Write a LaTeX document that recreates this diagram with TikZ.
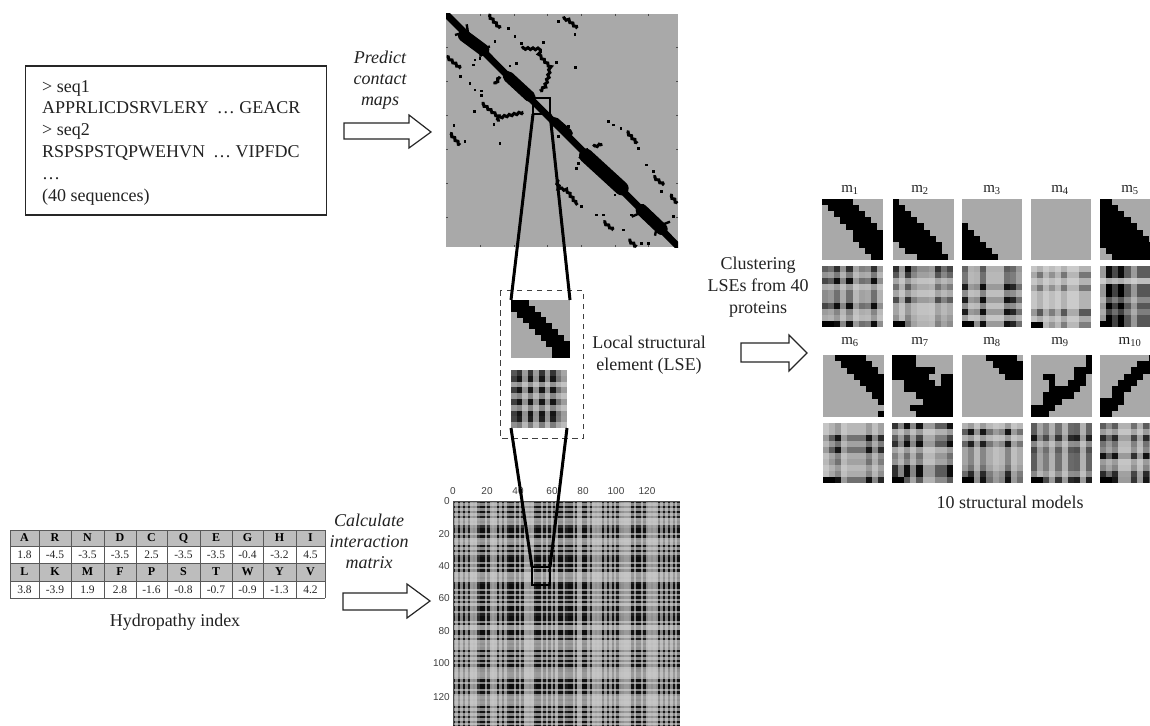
\documentclass[tikz,border=0pt]{standalone}
\usepackage{fontspec}
\setmainfont{Liberation Serif}
\newfontfamily\ticksf{Liberation Sans}
\usetikzlibrary{calc,decorations.pathmorphing}
\definecolor{mapgray}{HTML}{A9A9A9}
\definecolor{hdrgray}{HTML}{BDBDBD}
\definecolor{inktext}{HTML}{222222}
\tikzset{
 lbl/.style={inner sep=0pt,align=center,text=inktext,font=\fontsize{18}{22}\selectfont},
 ital/.style={inner sep=0pt,align=center,text=inktext,font=\fontsize{18}{21}\selectfont\itshape},
 mlab/.style={inner sep=0pt,text=inktext,font=\fontsize{15}{16}\selectfont},
 tick/.style={inner sep=0pt,text=black!75,font=\ticksf\fontsize{10}{12}\selectfont},
 hollow/.style={draw=black!85,fill=white,line width=1.2pt,line join=miter},
 zoomline/.style={draw=black,line width=3pt},
 sec/.style={draw=black,line width=3pt,line join=miter,decorate,decoration={zigzag,segment length=5pt,amplitude=0.9pt}},
 spike/.style={draw=black,line width=2.4pt},
 blob/.style={draw=black,line cap=round},
 cellt/.style={inner sep=0pt,text=black!85,font=\fontsize{11.5}{12}\selectfont},
 cellh/.style={inner sep=0pt,text=black,font=\fontsize{12}{12}\selectfont\bfseries},
}
% x y w h {r/a/b,...}
\newcommand{\stairmap}[5]{%
 \fill[mapgray] (#1,#2) rectangle ++(#3,#4);
 \foreach \r/\a/\b in {#5}{%
  \fill[black] ({#1+\a*#3/10},{#2+\r*#4/10}) rectangle ({#1+(\b+1)*#3/10},{#2+(\r+1)*#4/10+0.15});
 }%
}
% x y w h {cols} {rows}
\newcommand{\heatmap}[6]{%
 \foreach \dy [count=\j from 0] in {#6}{%
  \foreach \dx [count=\i from 0] in {#5}{%
   \pgfmathsetmacro{\pct}{100-85*(1-\dx*\dy)}
   \fill[black!\pct] ({#1+\i*#3/10},{#2+\j*#4/10}) rectangle ({#1+(\i+1)*#3/10+0.15},{#2+(\j+1)*#4/10+0.15});
  }%
 }%
}
\newcommand{\heatfoot}[4]{\fill[black] (#1,{#2+0.9*#4}) rectangle ({#1+0.2*#3},{#2+#4});}
\newcommand{\blockarrow}[8]{% x0 x1 ytop ybot headtop headbot tipx tipy
 \path[hollow] (#1,#3) -- (#2,#3) -- (#2,#5) -- (#7,#8) -- (#2,#6) -- (#2,#4) -- (#1,#4) -- cycle;
}
\newcommand{\stripelist}{.9,.4,.95,.4,.95,.4,.9,.3,.35,.3,.8,.97,.97,.4,.95,.35,.3,.35,.95,.4,.95,.4,.9,.97,.97,.4,.97,.4,.95,.3,.3,.35,.3,.9,.97,.97,.4,.95,.4,.95,.4,.95,.35,.97,.97,.4,.9,.97,.97,.4,.95,.3,.3,.97,.97,.4,.9,.3,.35,.3,.35,.95,.4,.95,.4,.95,.4,.95,.4,.35,.3,.3,.35,.95,.4,.97,.97,.4,.95,.4,.3,.35,.3,.35,.95,.4,.95,.4,.95,.4,.95,.4,.95}
\begin{document}
\begin{tikzpicture}[x=1pt,y=-1pt]
\useasboundingbox (0,0) rectangle (1150,725);
\fill[white] (0,0) rectangle (1150,725);
\begin{scope}
\clip (0,0) rectangle (1150,725);

% ---- sequence box
\node[draw=black!85,line width=1.1pt,inner sep=0pt,minimum width=301pt,minimum height=149pt] (seqbox) at (175.75,140.5) {};
\node[lbl,anchor=west,align=left,font=\fontsize{18}{21.8}\selectfont] (seqtext) at (42,142.5) {%
> seq1\\APPRLICDSRVLERY\hspace{8pt}\dots\ GEACR\\> seq2\\RSPSPSTQPWEHVN\hspace{8pt}\dots\ VIPFDC\\\dots\\(40 sequences)};

% ---- arrows and labels
\blockarrow{344}{409}{123}{139}{115}{148}{431}{132}
\blockarrow{343}{407}{593}{610}{584}{618}{430}{601}
\blockarrow{741}{789}{343}{362}{335}{371}{807}{353}
\node[ital] (lpredict) at (380,80) {Predict\\contact\\maps};
\node[ital] (lcalc) at (369,541) {Calculate\\interaction\\matrix};
\node[lbl] (lcluster) at (758,287) {Clustering\\LSEs from 40\\proteins};
\node[lbl] (llocal) at (649,355) {Local structural\\element (LSE)};
\node[lbl] (lhydro) at (175,622) {Hydropathy index};
\node[lbl] (lmodels) at (1010,502) {10 structural models};

% ---- contact map
\fill[mapgray] (446,14) rectangle (678,247);
\begin{scope}
\clip (446,14) rectangle (678,247);
\begin{scope}[shift={(440,5)},x=0.33333pt,y=-0.33333pt]
 \draw[black,line width=6.8pt] (10,19) -- (725,735);
 \draw[blob,line width=12pt] (72,92) -- (130,135);
 \draw[blob,line width=11pt] (205,215) -- (270,275);
 \draw[blob,line width=14pt] (438,452) -- (545,550);
 \draw[blob,line width=12pt] (605,615) -- (665,672);
 \draw[blob,line width=9pt] (345,350) -- (385,385);
 \draw[spike] (45,90) -- (80,80) (80,58) -- (85,90) (120,130) -- (150,125) (120,130) -- (122,155);
 \draw[spike] (440,435) -- (418,460) (440,430) -- (445,455) (608,598) -- (612,620) (610,620) -- (575,635) (650,668) -- (645,692) (665,660) -- (690,650);
 \draw[sec] (145,30) -- (180,70);
 \draw[sec] (368,40) -- (385,45) -- (412,70);
 \draw[sec] (245,130) -- (300,132) -- (297,150) -- (330,185) -- (325,215) -- (315,245) -- (300,258);
 \draw[sec] (20,155) -- (62,190);
 \draw[sec] (165,238) -- (180,215);
 \draw[sec] (125,295) -- (175,335) -- (175,350);
 \draw[sec] (175,338) -- (250,322);
 \draw[sec] (30,385) -- (60,420);
 \draw[sec] (350,525) -- (357,550) -- (380,555) -- (412,600);
 \draw[sec] (490,650) -- (520,675);
 \draw[sec] (565,705) -- (590,725);
 \draw[sec] (560,380) -- (592,415);
 \draw[sec] (640,515) -- (672,540);
 \draw[sec] (690,570) -- (712,595);
 \draw[sec] (460,425) -- (487,418);
 \foreach \px/\py in {205/70,355/50,405/88,225/95,245/115,100/180,105/165,120/160,62/215,210/183,230/175,
   90/235,105/255,125/258,125/272,103/320,162/358,42/362,75/410,180/415,505/350,520/360,543/370,595/430,
   425/605,415/475,410/490,470/630,490/630,550/675,605/715,625/715,620/480,640/500,665/560,700/635,575/630,
   385/365,355/395,525/570,165/110,310/112,350/172,407/187}{%
  \fill[black] ({\px-4},{\py-4}) rectangle ({\px+4},{\py+4});
 }
 \foreach \t in {120,222,322,423,525,625}{%
  \draw[black!70,line width=0.5pt] (\t,27) -- (\t,33) (\t,725) -- (\t,719);
 }
 \foreach \t in {128,230,332,433,535,636}{%
  \draw[black!70,line width=0.5pt] (18,\t) -- (24,\t) (715,\t) -- (709,\t);
 }
\end{scope}
\end{scope}

% ---- interaction matrix
\begin{scope}
 \clip (453,501) rectangle (680,725);
 \foreach \dy [count=\j from 0] in \stripelist {%
  \foreach \dx [count=\i from 0] in \stripelist {%
   \pgfmathsetmacro{\pct}{100-85*(1-\dx*\dy)}
   \fill[black!\pct] ({453+\i*2.44},{501+\j*2.44}) rectangle ({453+(\i+1)*2.44+0.1},{501+(\j+1)*2.44+0.1});
  }%
 }
\end{scope}
\draw[black!70,line width=0.8pt] (453,725) -- (453,501) -- (680,501);
\foreach \lab/\tx in {0/453,20/487,40/518,60/552,80/583,100/616,120/647}{%
 \node[tick] (ct\lab) at (\tx,491) {\lab};
}
\foreach \lab/\ty in {0/501,20/534,40/566,60/598,80/631,100/663,120/697}{%
 \node[tick,anchor=east] (rt\lab) at (450,\ty) {\lab};
}

% ---- central LSE
\stairmap{511}{300}{59}{58}{0/0/2,1/0/3,2/1/4,3/2/5,4/3/6,5/4/7,6/5/8,7/6/9,8/7/9,9/7/9}
\heatmap{511}{370}{56}{58}{.75,.95,.35,.95,.35,.95,.35,.95,.5,.3}{.8,.95,.35,.95,.4,.95,.4,.95,.9,.45}
\draw[black!75,line width=1pt,dash pattern=on 5.5pt off 4.5pt] (500,290) rectangle (583,438);

% ---- zoom connectors
\coordinate (topTL) at (533,98);
\coordinate (topBR) at (550,114);
\coordinate (topBL) at (533,114);
\coordinate (lseTL) at (511,300);
\coordinate (lseTR) at (570,300);
\coordinate (lseBL) at (511,428);
\coordinate (lseBR) at (567,428);
\coordinate (matTL) at (532,567);
\coordinate (matTR) at (550,567);
\coordinate (matBR) at (550,585);
\draw[zoomline,line width=2.4pt] (topTL) rectangle (topBR);
\draw[zoomline] (topBL) -- (lseTL);
\draw[zoomline] (topBR) -- (lseTR);
\draw[zoomline] (lseBL) -- (matTL);
\draw[zoomline] (lseBR) -- (matTR);
\draw[zoomline,line width=2.4pt] (matTL) rectangle (matBR);

% ---- hydropathy table
\fill[hdrgray] (10,530) rectangle (325,546);
\fill[hdrgray] (10,563) rectangle (325,581);
\foreach \ya in {530,546,563,581,598}{\draw[black!65,line width=1pt] (10,\ya) -- (325,\ya);}
\foreach \xa in {10,39,71,104,136,167,200,232,263,296,325}{\draw[black!65,line width=1pt] (\xa,530) -- (\xa,598);}
\foreach \t/\xc [count=\k] in {A/24.5,R/55,N/87.5,D/120,C/151.5,Q/183.5,E/216,G/247.5,H/279.5,I/310.5}{%
 \node[cellh] (ha\k) at (\xc,538) {\t};
}
\foreach \t/\xc [count=\k] in {1.8/24.5,-4.5/55,-3.5/87.5,-3.5/120,2.5/151.5,-3.5/183.5,-3.5/216,-0.4/247.5,-3.2/279.5,4.5/310.5}{%
 \node[cellt] (va\k) at (\xc,554.5) {\t};
}
\foreach \t/\xc [count=\k] in {L/24.5,K/55,M/87.5,F/120,P/151.5,S/183.5,T/216,W/247.5,Y/279.5,V/310.5}{%
 \node[cellh] (hb\k) at (\xc,572) {\t};
}
\foreach \t/\xc [count=\k] in {3.8/24.5,-3.9/55,1.9/87.5,2.8/120,-1.6/151.5,-0.8/183.5,-0.7/216,-0.9/247.5,-1.3/279.5,4.2/310.5}{%
 \node[cellt] (vb\k) at (\xc,589.5) {\t};
}

% ---- models
\foreach \n/\tx in {1/850,2/920,3/992,4/1060,5/1130}{%
 \node[mlab] (m\n) at (\tx,190) {m\textsubscript{\n}};
}
\foreach \n/\tx in {6/850,7/920,8/992,9/1060,10/1130}{%
 \node[mlab] (m\n) at (\tx,342) {m\textsubscript{\n}};
}
\stairmap{822}{199}{61}{61}{0/0/4,1/1/5,2/2/6,3/3/7,4/4/8,5/5/9,6/5/9,7/6/9,8/7/9,9/8/9}
\stairmap{893}{199}{61}{61}{0/0/0,1/0/1,2/0/2,3/0/3,4/0/4,5/0/5,6/0/6,7/1/7,8/2/7,9/4/8}
\stairmap{962}{199}{60}{61}{4/0/0,5/0/1,6/0/2,7/0/3,8/0/4,9/0/5}
\fill[mapgray] (1031,199) rectangle ++(60,61);
\stairmap{1100}{199}{61}{61}{0/0/1,1/0/2,2/0/3,3/0/4,4/0/5,5/0/6,6/0/7,7/0/8,8/1/9,9/2/9}

\heatmap{822}{266}{61}{61}{.7,.6,.97,.4,.97,.3,.5,.45,.97,.35}{.8,.45,.97,.3,.5,.5,.97,.4,.3,.97}\heatfoot{822}{266}{61}{61}
\heatmap{893}{266}{60}{61}{.8,.3,.97,.5,.35,.35,.3,.8,.5,.7}{.97,.75,.3,.6,.3,.8,.3,.3,.4,.5}\heatfoot{893}{266}{60}{61}
\heatmap{962}{266}{60}{61}{.9,.3,.35,.97,.3,.3,.3,.95,.85,.5}{.6,.5,.5,.97,.4,.97,.4,.97,.3,.97}\heatfoot{962}{266}{60}{61}
\heatmap{1031}{266}{60}{62}{.35,.7,.25,.5,.25,.7,.25,.25,.7,.7}{.25,.65,.25,.65,.25,.25,.25,.85,.3,.6}\heatfoot{1031}{266}{60}{62}
\heatmap{1100}{266}{61}{61}{.3,1,.7,1,.6,.3,.6,.6,.6,.6}{.95,.95,.2,1,1,.6,1,.7,1,1}\heatfoot{1100}{266}{61}{61}

\stairmap{823}{355}{61}{62}{0/2/6,1/3/7,2/4/8,3/5/9,4/6/9,5/7/9,6/8/9,7/9/9,9/9/9}
\stairmap{892}{355}{61}{62}{0/0/3,1/0/3,2/0/6,3/0/5,3/8/9,4/2/6,4/8/9,5/2/9,6/4/9,7/5/9,8/3/9,9/4/9}
\stairmap{962}{355}{61}{62}{0/4/8,1/5/9,2/6/9,3/7/9}
\stairmap{1031}{355}{61}{62}{0/9/9,1/9/9,2/7/9,3/2/3,3/7/8,4/3/3,4/6/8,5/3/7,6/2/6,7/2/4,8/0/3,9/0/2}
\stairmap{1100}{355}{61}{62}{0/8/9,1/6/9,2/5/8,3/4/6,4/3/5,5/2/4,6/2/3,7/0/3,8/0/2,9/0/1}

\heatmap{823}{423}{61}{60}{.3,.6,.95,.3,.5,.5,.5,.95,.4,.85}{.3,.3,.95,.5,.95,.4,.5,.3,.4,.97}\heatfoot{823}{423}{61}{60}
\heatmap{892}{423}{61}{60}{.8,.4,.97,.4,.97,.3,.3,.6,.6,.97}{.95,.3,.7,.97,.3,.5,.4,.97,.97,.6}\heatfoot{892}{423}{61}{60}
\heatmap{962}{423}{61}{60}{.6,.95,.35,.95,.5,.3,.4,.95,.3,.5}{.3,.95,.3,.9,.4,.4,.4,.5,.85,.97}\heatfoot{962}{423}{61}{60}
\heatmap{1031}{423}{61}{60}{.95,.4,.7,.3,.8,.3,.85,.9,.3,.9}{.6,.6,.95,.4,.7,.6,.6,.6,.4,.95}\heatfoot{1031}{423}{61}{60}
\heatmap{1100}{423}{61}{60}{.95,.6,.95,.3,.3,.8,.3,.95,.6,.7}{.6,.3,.85,.5,.4,.97,.3,.4,.85,.95}\heatfoot{1100}{423}{61}{60}
\end{scope}
\end{tikzpicture}
\end{document}
